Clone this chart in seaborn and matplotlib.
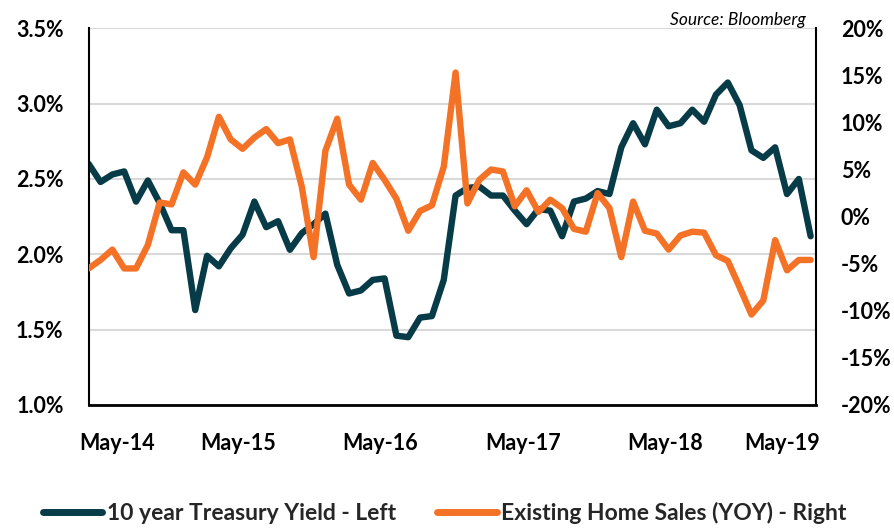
import numpy as np
import pandas as pd
import seaborn as sns
import matplotlib.pyplot as plt
from matplotlib.ticker import FuncFormatter
from matplotlib.lines import Line2D

# monthly, end of Apr-14 to end of May-19
months = pd.date_range("2014-04-30", periods=62, freq="ME")

treasury_yield = [2.60, 2.48, 2.53, 2.55, 2.35, 2.49, 2.34, 2.16, 2.16, 1.63, 1.99, 1.92,
                  2.04, 2.13, 2.35, 2.18, 2.22, 2.03, 2.14, 2.20, 2.27, 1.93,
                  1.74, 1.76, 1.83, 1.84, 1.46, 1.45, 1.58, 1.59, 1.83, 2.39,
                  2.44, 2.45, 2.39, 2.39, 2.29, 2.20, 2.30, 2.29, 2.12, 2.35,
                  2.37, 2.42, 2.40, 2.71, 2.87, 2.73, 2.96, 2.85, 2.87, 2.96,
                  2.88, 3.06, 3.14, 2.99, 2.69, 2.64, 2.71, 2.40, 2.50, 2.12]

home_sales_yoy = [-5.5, -4.6, -3.5, -5.5, -5.5, -3.0, 1.5, 1.3, 4.7, 3.4, 6.3, 10.6,
                  8.2, 7.2, 8.4, 9.3, 7.8, 8.2, 3.2, -4.3, 7.0, 10.4,
                  3.4, 1.8, 5.7, 3.9, 1.9, -1.5, 0.6, 1.2, 5.3, 15.3,
                  1.4, 3.9, 5.0, 4.8, 1.1, 2.8, 0.5, 1.8, 0.9, -1.3,
                  -1.6, 2.5, 0.9, -4.3, 1.6, -1.5, -1.8, -3.5, -2.0, -1.6,
                  -1.7, -4.1, -4.7, -7.5, -10.4, -8.9, -2.5, -5.7, -4.6, -4.6]

tick_labels = ["May-14", "May-15", "May-16", "May-17", "May-18", "May-19"]
tick_pos = [2.4, 12.6, 24.6, 36.7, 48.7, 58.6]

series_names = ["10 year Treasury Yield - Left", "Existing Home Sales (YOY) - Right"]
navy = "#073B47"
orange = "#F47226"

sns.set_theme(style="white")
plt.rcParams["font.family"] = ["Lato", "DejaVu Sans"]
plt.rcParams["font.weight"] = "bold"

fig = plt.figure(figsize=(8.95, 5.28), dpi=100)
ax = fig.add_axes([0.0991, 0.2330, 0.8126, 0.7134])
ax2 = ax.twinx()

x = np.arange(len(months))
sns.lineplot(x=x, y=treasury_yield, ax=ax, color=navy, lw=4.6,
             solid_joinstyle="round", solid_capstyle="round")
sns.lineplot(x=x, y=home_sales_yoy, ax=ax2, color=orange, lw=4.6,
             solid_joinstyle="round", solid_capstyle="round")

ax.set_xlim(0, 61.45)
ax.set_ylim(1.0, 3.5)
ax2.set_ylim(-20, 20)
ax.set_yticks(np.arange(1.0, 3.51, 0.5))
ax2.set_yticks(np.arange(-20, 21, 5))
ax.yaxis.set_major_formatter(FuncFormatter(lambda v, p: f"{v:.1f}%"))
ax2.yaxis.set_major_formatter(FuncFormatter(lambda v, p: f"{v:.0f}%"))
ax.set_xticks(tick_pos)
ax.set_xticklabels(tick_labels)

ax.yaxis.grid(True, color="#D9D9D9", lw=1.5)
ax.tick_params(axis="y", length=0, pad=18, labelsize=15.5, labelcolor="black")
ax.tick_params(axis="x", length=0, pad=20, labelsize=15.5, labelcolor="black")
ax2.tick_params(axis="y", length=0, pad=18, labelsize=15.5, labelcolor="black")

for a in (ax, ax2):
    a.spines["top"].set_visible(False)
    for s in ("left", "right", "bottom"):
        a.spines[s].set_color("black")
ax.spines["left"].set_linewidth(1.5)
ax.spines["bottom"].set_linewidth(2.0)
ax2.spines["right"].set_linewidth(1.5)
ax2.spines["left"].set_visible(False)
ax2.spines["bottom"].set_visible(False)
ax.spines["right"].set_visible(False)
ax.set_xlabel("")
ax.set_ylabel("")
ax2.set_ylabel("")

fig.text(806 / 895, 1 - 25 / 528, "Source: Bloomberg", ha="right", va="baseline",
         style="italic", fontweight="normal", fontsize=12.5, color="black")

handles = [Line2D([], [], color=navy, lw=5), Line2D([], [], color=orange, lw=5)]
fig.legend(handles, series_names, loc="center", bbox_to_anchor=(0.497, 0.028), ncol=2,
           frameon=False, handlelength=2.6, handletextpad=0.2, columnspacing=1.8,
           fontsize=16.5)

fig.savefig("out.png", dpi=100)
